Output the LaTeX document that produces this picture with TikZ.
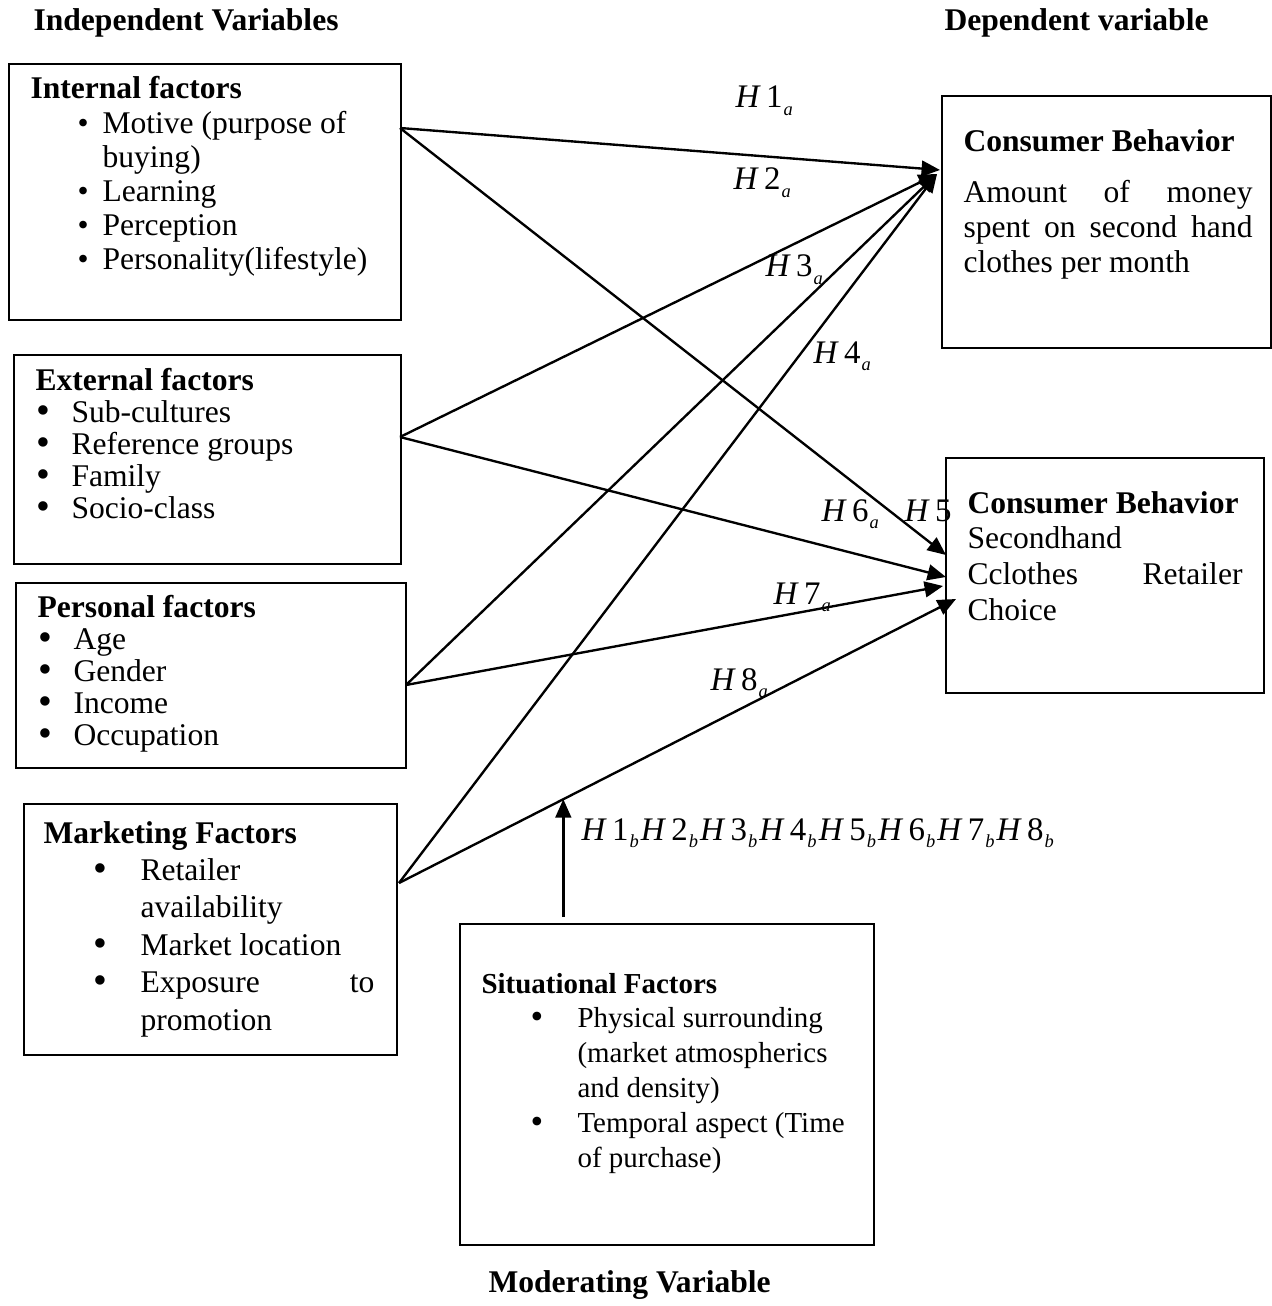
\documentclass[tikz,border=0pt]{standalone}
\usepackage{fontspec}
\usepackage{graphicx}
\setmainfont{Liberation Serif}
\usetikzlibrary{arrows.meta,calc}

% one drawing unit
\newlength\px
\setlength\px{0.38pt}

% bullet line: offset of bullet, gap to text, text
\newcommand\bl[3]{\hbox{\hskip#1\px\makebox[#2\px][l]{\textbullet}#3}}
% same with the heavier list bullet
\newcommand\bbl[3]{\hbox{\hskip#1\px\makebox[#2\px][l]{\raisebox{-0.04em}{\smash{\scalebox{1.25}{\textbullet}}}}#3}}
% continuation line: offset of text, text
\newcommand\cl[2]{\hbox{\hskip#1\px #2}}
% hypothesis label: H, number, subscript letter
\newcommand\hyp[2]{\textit{H}\kern2pt#1\kern0.4pt\raisebox{-3pt}{\fontsize{7}{8}\selectfont\textit{#2}}}

\begin{document}
\begin{tikzpicture}[x=0.38pt,y=-0.38pt,
  box/.style 2 args={draw,line width=0.75pt,rectangle,inner sep=0pt,anchor=north west,
    minimum width=#1*0.38pt,minimum height=#2*0.38pt},
  txt/.style={anchor=base west,inner sep=0pt,font=\fontsize{12}{14}\selectfont},
  hdr/.style={anchor=base west,inner sep=0pt,font=\fontsize{12}{14}\selectfont\bfseries},
  lab/.style={anchor=base west,inner sep=0pt,font=\fontsize{12.5}{14}\selectfont},
  link/.style={line width=0.9pt,-{Triangle[length=7pt,width=6pt]}}]

\useasboundingbox (0,0) rectangle (1271,1306);

% headings
\node[hdr] (indep) at (33,31) {Independent Variables};
\node[hdr] (dep) at (944,31) {Dependent variable};
\node[hdr] (modv) at (488,1292) {Moderating Variable};

% frames
\node[box={392}{256}] (int) at (8,63) {};
\node[box={387}{209}] (ext) at (13,354) {};
\node[box={390}{185}] (per) at (15,582) {};
\node[box={373}{251}] (mkt) at (23,803) {};
\node[box={414}{321}] (sit) at (459,923) {};
\node[box={329}{252}] (cb1) at (941,95) {};
\node[box={318}{235}] (cb2) at (945,457) {};

% frame contents
\node[txt] (intT) at (30,99) {\vtop{\baselineskip=34.2\px
  \hbox{\bfseries Internal factors}
  \bl{47}{25}{Motive (purpose of}
  \cl{72}{buying)}
  \bl{47}{25}{Learning}
  \bl{47}{25}{Perception}
  \bl{47}{25}{Personality(lifestyle)}}};

\node[txt] (extT) at (35,390) {\vtop{\baselineskip=32\px
  \hbox{\bfseries External factors}
  \bbl{1}{35}{Sub-cultures}
  \bbl{1}{35}{Reference groups}
  \bbl{1}{35}{Family}
  \bbl{1}{35}{Socio-class}}};

\node[txt] (perT) at (37,617) {\vtop{\baselineskip=32\px
  \hbox{\bfseries Personal factors}
  \bbl{1}{35}{Age}
  \bbl{1}{35}{Gender}
  \bbl{1}{35}{Income}
  \bbl{1}{35}{Occupation}}};

\node[txt] (mktT) at (43,843) {\vtop{\baselineskip=37.4\px
  \hbox{\bfseries Marketing Factors}
  \bbl{50}{47}{Retailer}
  \cl{97}{availability}
  \bbl{50}{47}{Market location}
  \bbl{50}{47}{\hbox to 234\px{Exposure\hfill to}}
  \cl{97}{promotion}}};

\node[txt,font=\fontsize{11}{13}\selectfont] (sitT) at (481,993) {\vtop{\baselineskip=34.8\px
  \hbox{\bfseries Situational Factors}
  \bbl{49}{47}{Physical surrounding}
  \cl{96}{(market atmospherics}
  \cl{96}{and density)}
  \bbl{49}{47}{Temporal aspect (Time}
  \cl{96}{of purchase)}}};

\node[txt] (cb1T) at (963,152) {\vtop{\baselineskip=35\px
  \hbox{\bfseries Consumer Behavior}\vskip16\px
  \hbox to 289\px{Amount\hfill of\hfill money}
  \hbox to 289\px{spent\hfill on\hfill second\hfill hand}
  \hbox{clothes per month}}};

\node[txt] (cb2T) at (967,513) {\vtop{\baselineskip=35.7\px
  \hbox{\bfseries Consumer Behavior}
  \hbox{Secondhand}
  \hbox to 275\px{Cclothes\hfill Retailer}
  \hbox{Choice}}};

% connector ends
\coordinate (iO) at (400,128);
\coordinate (eO) at (400,437);
\coordinate (pO) at (406,685);
\coordinate (mO) at (399,883);
\coordinate (t1) at (940,170);
\coordinate (t2) at (937,174);
\coordinate (s5) at (946,555);
\coordinate (s6) at (946,577);
\coordinate (s7) at (943,586);
\coordinate (s8) at (956,599);
\coordinate (mt) at ($(mO)!0.295!(s8)$);
\coordinate (mb) at ($(mt |- sit.north)+(0,-6)$);

% hypotheses
\draw[link] (iO) -- (t1);
\draw[link] (iO) -- (s5);
\draw[link] (eO) -- (t2);
\draw[link] (eO) -- (s6);
\draw[link] (pO) -- (t2);
\draw[link] (pO) -- (s7);
\draw[link] (mO) -- (t2);
\draw[link] (mO) -- (s8);
\draw[link] (mb) -- (mt);

% labels
\node[lab] (h1) at (735,108) {\hyp1a};
\node[lab] (h2) at (733,190) {\hyp2a};
\node[lab] (h3) at (765,277) {\hyp3a};
\node[lab] (h4) at (813,363) {\hyp4a};
\node[lab] (h6) at (821,521) {\hyp6a};
\node[lab] (h5) at (904,521) {\textit{H}\kern2pt5};
\node[lab] (h7) at (773,604) {\hyp7a};
\node[lab] (h8) at (710,690) {\hyp8a};
\node[lab] (hb) at (581,840) {\hyp1b\kern0.8pt\hyp2b\kern0.8pt\hyp3b\kern0.8pt\hyp4b\kern0.8pt\hyp5b\kern0.8pt\hyp6b\kern0.8pt\hyp7b\kern0.8pt\hyp8b};
\end{tikzpicture}
\end{document}
